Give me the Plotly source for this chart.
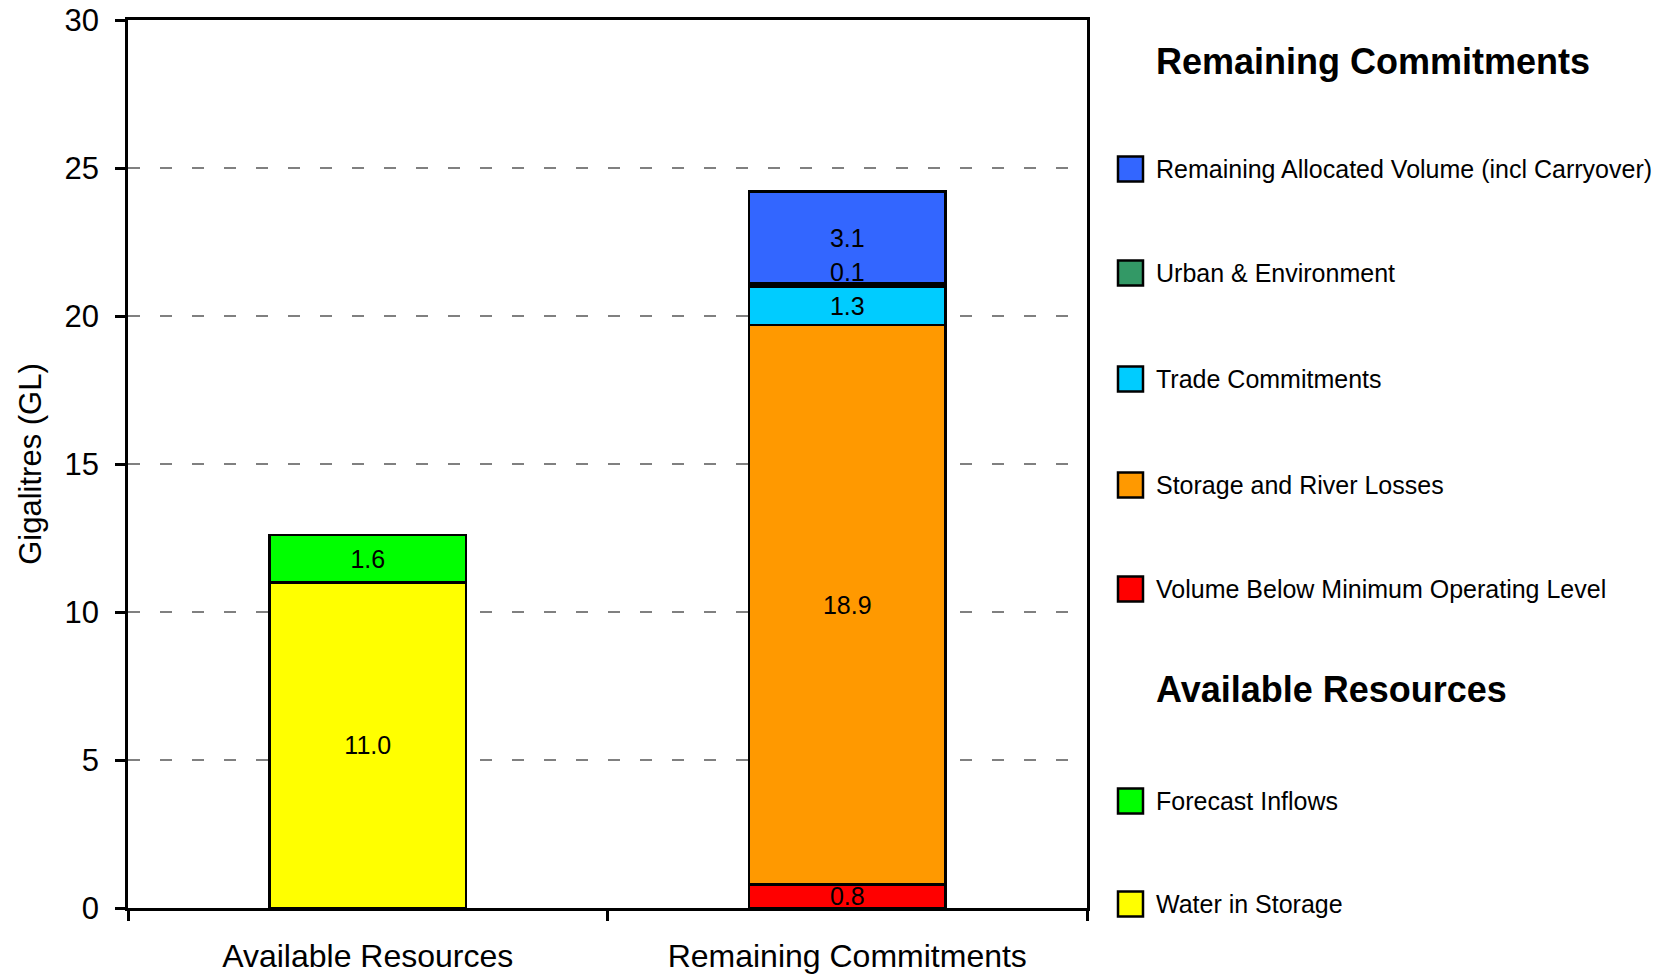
import plotly.graph_objects as go

categories = ["Available Resources", "Remaining Commitments"]

# stacked bottom to top
series_names = [
    "Water in Storage",
    "Forecast Inflows",
    "Volume Below Minimum Operating Level",
    "Storage and River Losses",
    "Trade Commitments",
    "Urban & Environment",
    "Remaining Allocated Volume (incl Carryover)",
]
series_values = [
    [11.0, None],
    [1.6, None],
    [None, 0.8],
    [None, 18.9],
    [None, 1.3],
    [None, 0.1],
    [None, 3.1],
]
series_colors = [
    "#FFFF00",
    "#00FF00",
    "#FF0000",
    "#FF9900",
    "#00CCFF",
    "#339966",
    "#3366FF",
]

legend_groups = [
    ("Remaining Commitments", [
        "Remaining Allocated Volume (incl Carryover)",
        "Urban & Environment",
        "Trade Commitments",
        "Storage and River Losses",
        "Volume Below Minimum Operating Level",
    ]),
    ("Available Resources", [
        "Forecast Inflows",
        "Water in Storage",
    ]),
]

FONT = "Liberation Sans, Arial, sans-serif"
W, H = 1676, 980
# plot area in page pixels
SL, SR, ST, SB = 128, 1087, 20, 908

fig = go.Figure()
cum = [0.0 for _ in categories]
thin_labels = []
for name, vals, col in zip(series_names, series_values, series_colors):
    thin = any(v is not None and v < 0.5 for v in vals)
    fig.add_trace(go.Bar(
        x=categories, y=vals, name=name,
        marker=dict(color=col, line=dict(color="black", width=2.5)),
        width=0.41,
        texttemplate="" if thin else "%{y:.1f}",
        textposition="inside",
        insidetextanchor="middle",
        textangle=0,
        insidetextfont=dict(family=FONT, size=25, color="black"),
        showlegend=False,
        cliponaxis=False,
    ))
    for i, v in enumerate(vals):
        if v is not None:
            cum[i] += v
            if thin:
                thin_labels.append((categories[i], cum[i], v))

def px_to_paper(x, y):
    return (x - SL) / (SR - SL), (SB - y) / (SB - ST)

shapes = []
annotations = []
for cat, top, v in thin_labels:
    annotations.append(dict(x=cat, y=top, xref="x", yref="y", text=f"{v:.1f}",
                            showarrow=False, yanchor="bottom", yshift=-5,
                            font=dict(family=FONT, size=25, color="black")))

heading_y = {"Remaining Commitments": 61, "Available Resources": 689}
item_y = [169, 273, 379, 485, 589, 801, 904]
color_of = dict(zip(series_names, series_colors))
k = 0
for title, names in legend_groups:
    hx, hy = px_to_paper(1157, heading_y[title])
    annotations.append(dict(x=hx, y=hy, xref="paper", yref="paper", text="<b>" + title + "</b>",
                            showarrow=False, xanchor="left", yanchor="middle", xshift=-3,
                            font=dict(family=FONT, size=36, color="black")))
    for nm in names:
        cy = item_y[k]
        k += 1
        x0, y0 = px_to_paper(1118, cy - 12.5)
        x1, y1 = px_to_paper(1143, cy + 12.5)
        shapes.append(dict(type="rect", xref="paper", yref="paper", x0=x0, x1=x1, y0=y1, y1=y0,
                           fillcolor=color_of[nm], line=dict(color="black", width=2.5)))
        tx, ty = px_to_paper(1157, cy)
        annotations.append(dict(x=tx, y=ty, xref="paper", yref="paper", text=nm,
                                showarrow=False, xanchor="left", yanchor="middle", xshift=-3,
                                font=dict(family=FONT, size=25, color="black")))

fig.update_layout(
    barmode="stack",
    width=W, height=H,
    margin=dict(l=SL, r=W - SR, t=ST, b=H - SB, pad=0, autoexpand=False),
    paper_bgcolor="white", plot_bgcolor="white",
    font=dict(family=FONT, size=28, color="black"),
    shapes=shapes, annotations=annotations,
    uniformtext=dict(minsize=25, mode="show"),
)
fig.update_xaxes(
    type="category", range=[-0.5, 1.5], automargin=False,
    showline=True, linecolor="black", linewidth=2.5, mirror=True,
    ticks="outside", tickson="boundaries", ticklen=10, tickwidth=2.5, tickcolor="black",
    tickfont=dict(family=FONT, size=32, color="black"),
    ticklabelstandoff=18, ticklabeloverflow="allow",
    showgrid=False,
)
fig.update_yaxes(
    range=[0, 30], dtick=5, tick0=0, automargin=False,
    showline=True, linecolor="black", linewidth=2.5, mirror=True,
    ticks="outside", ticklen=10, tickwidth=2.5, tickcolor="black",
    tickfont=dict(family=FONT, size=31, color="black"),
    ticklabelstandoff=10, ticklabeloverflow="allow",
    showgrid=True, gridcolor="#808080", gridwidth=2, griddash="12px,20px",
    zeroline=False,
    title=dict(text="Gigalitres (GL)", font=dict(family=FONT, size=31, color="black"), standoff=14),
)

fig.write_html("out.html", config={"displayModeBar": False},
               post_script="document.body.style.margin='0';")
